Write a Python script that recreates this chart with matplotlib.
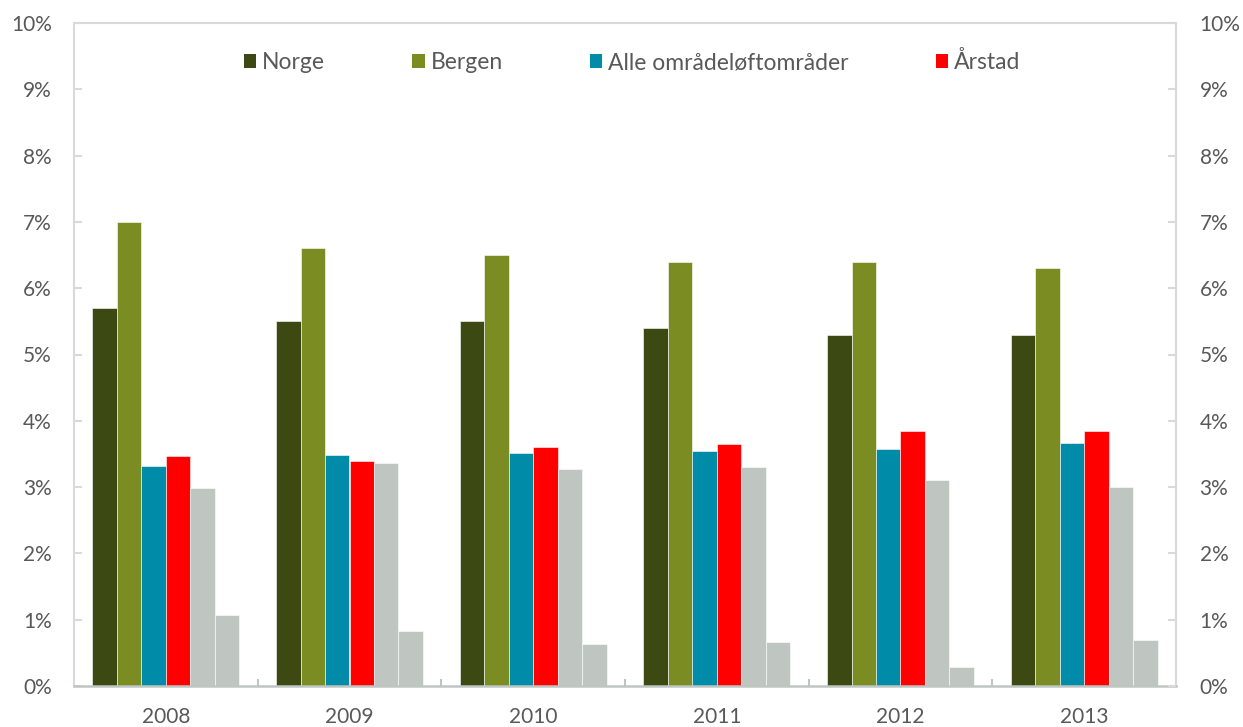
import matplotlib
matplotlib.use("Agg")
import matplotlib.pyplot as plt
import numpy as np
from matplotlib.ticker import FuncFormatter, FixedLocator

plt.rcParams['font.family'] = ['Lato', 'DejaVu Sans']

years = ["2008", "2009", "2010", "2011", "2012", "2013"]
norge = [5.7, 5.5, 5.5, 5.4, 5.3, 5.3]
bergen = [7.0, 6.6, 6.5, 6.4, 6.4, 6.3]
alle = [3.32, 3.49, 3.52, 3.54, 3.57, 3.66]
arstad = [3.47, 3.40, 3.60, 3.65, 3.84, 3.84]
grey1 = [2.98, 3.36, 3.28, 3.30, 3.11, 3.00]
grey2 = [1.07, 0.83, 0.63, 0.66, 0.29, 0.69]

series = [
    ("Norge", norge, "#3D4912"),
    ("Bergen", bergen, "#7A8C22"),
    ("Alle områdeløftområder", alle, "#008CA8"),
    ("Årstad", arstad, "#FF0000"),
    ("_nolegend_", grey1, "#BFC6C2"),
    ("_nolegend_", grey2, "#BFC6C2"),
]

txt = "#595959"
spine_c = "#D9D9D9"

fig = plt.figure(figsize=(12.43, 7.27), dpi=100)
ax = fig.add_axes([74/1243, 41/727, 1102/1243, 663/727])

x = np.arange(len(years))
w = 0.8 / 6
for i, (lab, vals, col) in enumerate(series):
    ax.bar(x + (i - 2.5) * w, vals, width=w, color=col, label=lab,
           edgecolor="#FFFFFF", linewidth=0.4, zorder=2)

ax.set_xlim(-0.5, 5.5)
ax.set_ylim(0, 10)

# y axis
ax.set_yticks(np.arange(0, 11, 1))
fmt = FuncFormatter(lambda v, p: f"{int(round(v))}%")
ax.yaxis.set_major_formatter(fmt)
ax.tick_params(axis='y', direction='in', length=6, width=1.5, color=spine_c,
               labelsize=15, labelcolor=txt, pad=16)

# x axis: ticks at boundaries, labels at centers
ax.xaxis.set_major_locator(FixedLocator(np.arange(0.5, 5.5, 1)))
ax.xaxis.set_major_formatter(FuncFormatter(lambda v, p: ""))
ax.set_xticks(x, minor=True)
ax.set_xticklabels(years, minor=True)
ax.tick_params(axis='x', which='major', direction='in', length=5, width=1.5, color="#BFC6C2")
ax.tick_params(axis='x', which='minor', length=0, labelsize=15, labelcolor=txt, pad=15)

for s in ['left', 'top', 'right']:
    ax.spines[s].set_color(spine_c)
    ax.spines[s].set_linewidth(1.5)
ax.spines['bottom'].set_color("#BFC6C2")
ax.spines['bottom'].set_linewidth(1.8)

ax2 = ax.twinx()
ax2.set_ylim(0, 10)
ax2.set_yticks(np.arange(0, 11, 1))
ax2.yaxis.set_major_formatter(fmt)
ax2.tick_params(axis='y', direction='in', length=6, width=1.5, color=spine_c,
                labelsize=15, labelcolor=txt, pad=17)
for s in ax2.spines.values():
    s.set_visible(False)

leg = fig.legend(loc='center', bbox_to_anchor=(632/1243, 1 - 62/727), ncol=4,
                 frameon=False, fontsize=16.5, handlelength=0.55, handleheight=0.55,
                 handletextpad=0.25, columnspacing=3.8, labelcolor=txt)
for h in leg.legend_handles:
    h.set_edgecolor("none")

fig.savefig("out.png", dpi=100)
